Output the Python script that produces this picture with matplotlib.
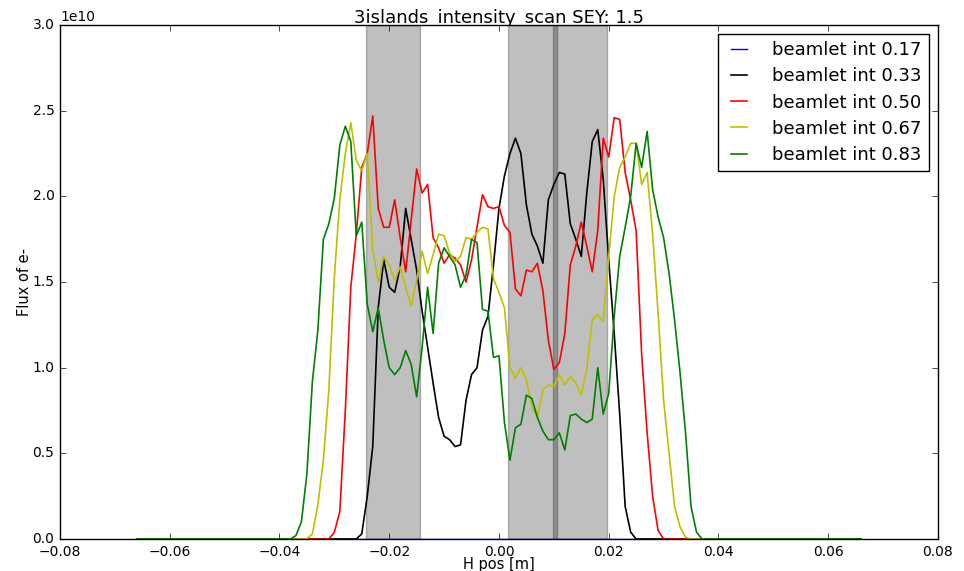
import numpy as np
import matplotlib
matplotlib.use("Agg")
import matplotlib.pyplot as plt

# beam positions: 1 mm grid from -66 mm to +66 mm
x_mm = np.arange(-66, 67)
# window where the curves are not zero: -38 mm .. +37 mm
win_start, win_stop = -38, 37

# flux values in units of 1e10, read in the window -38..37 mm
flux_033 = [0, 0, 0, 0, 0, 0, 0, 0, 0, 0, 0, 0, 0,
            0.03, 0.25, 0.54, 1.35, 1.63, 1.47, 1.44, 1.59, 1.93, 1.75,
            1.57, 1.33, 1.12, 0.91, 0.71, 0.60, 0.58, 0.54, 0.55, 0.81,
            0.96, 1.00, 1.22, 1.30, 1.60, 1.93, 2.12, 2.25, 2.34, 2.25,
            1.95, 1.78, 1.71, 1.61, 1.98, 2.07, 2.14, 2.13, 1.84, 1.75,
            1.65, 2.02, 2.32, 2.39, 2.10, 1.63, 1.20, 0.73, 0.19, 0.04,
            0, 0, 0, 0, 0, 0, 0, 0, 0, 0, 0, 0, 0]
flux_050 = [0, 0, 0, 0, 0, 0, 0, 0,
            0.04, 0.16, 0.75, 1.47, 1.78, 2.17, 2.25, 2.47, 1.93, 1.82,
            1.82, 1.98, 1.76, 1.56, 1.86, 2.16, 2.02, 2.07, 1.76, 1.70,
            1.61, 1.66, 1.64, 1.60, 1.50, 1.63, 1.82, 2.01, 1.94, 1.93,
            1.94, 1.83, 1.79, 1.46, 1.42, 1.57, 1.56, 1.61, 1.45, 1.16,
            0.99, 1.03, 1.20, 1.60, 1.71, 1.85, 1.71, 1.56, 1.80, 2.34,
            2.23, 2.46, 2.45, 2.14, 1.98, 1.80, 1.08, 0.62, 0.25, 0.05,
            0, 0, 0, 0, 0, 0, 0, 0]
flux_067 = [0, 0, 0, 0,
            0.03, 0.20, 0.46, 0.87, 1.53, 1.98, 2.25, 2.43, 2.21, 2.15,
            2.25, 1.69, 1.50, 1.65, 1.60, 1.51, 1.59, 1.47, 1.36, 1.51,
            1.68, 1.55, 1.66, 1.78, 1.77, 1.67, 1.62, 1.65, 1.76, 1.75,
            1.79, 1.82, 1.81, 1.52, 1.44, 1.35, 1.00, 0.94, 1.00, 0.93,
            0.77, 0.71, 0.87, 0.90, 0.89, 0.96, 0.90, 0.95, 0.91, 0.84,
            0.99, 1.28, 1.31, 1.27, 1.65, 2.00, 2.17, 2.23, 2.31, 2.31,
            2.07, 2.14, 1.78, 1.32, 0.81, 0.50, 0.19, 0.07, 0.01,
            0, 0, 0]
flux_083 = [0,
            0.02, 0.10, 0.38, 0.92, 1.22, 1.75, 1.84, 1.99, 2.30, 2.41,
            2.32, 1.77, 1.85, 1.37, 1.21, 1.35, 1.16, 1.00, 0.96, 1.00,
            1.10, 1.02, 0.83, 1.12, 1.47, 1.20, 1.61, 1.70, 1.65, 1.60,
            1.47, 1.54, 1.75, 1.73, 1.34, 1.33, 1.06, 1.07, 0.68, 0.46,
            0.65, 0.67, 0.84, 0.82, 0.71, 0.63, 0.58, 0.58, 0.62, 0.52,
            0.72, 0.73, 0.70, 0.68, 0.70, 1.00, 0.73, 0.85, 1.30, 1.65,
            1.82, 2.00, 2.31, 2.17, 2.38, 2.04, 1.88, 1.76, 1.55, 1.28,
            0.97, 0.62, 0.19, 0.04,
            0]

labels = ['beamlet int 0.17', 'beamlet int 0.33', 'beamlet int 0.50',
          'beamlet int 0.67', 'beamlet int 0.83']
colors = ['b', 'k', 'r', 'y', 'g']

# shaded regions [m]
spans = [(-0.0243, -0.0143), (0.0016, 0.0105), (0.0098, 0.0196)]


def full_series(window_vals):
    out = np.zeros(len(x_mm))
    i0 = win_start - x_mm[0]
    out[i0:i0 + len(window_vals)] = window_vals
    return out * 1e10


x = x_mm * 1e-3
series = [np.zeros(len(x_mm)),
          full_series(flux_033), full_series(flux_050),
          full_series(flux_067), full_series(flux_083)]

plt.style.use('classic')
plt.rcParams['font.family'] = 'DejaVu Sans'

fig = plt.figure(figsize=(9.64, 5.71), dpi=100, facecolor='white')
ax = fig.add_axes([0.0622, 0.056, 0.9108, 0.9])

for a, b in spans:
    ax.axvspan(a, b, color='k', alpha=0.25, lw=1)

for i, (y, c, lab) in enumerate(zip(series, colors, labels)):
    # the all-zero blue curve sits under the bottom spine
    ax.plot(x, y, color=c, lw=1.0 if i == 0 else 1.2, label=lab)

ax.set_xlim(-0.08, 0.08)
ax.set_ylim(0, 3e10)
ax.set_xticks(np.arange(-0.08, 0.081, 0.02))
ax.tick_params(labelsize=10)
ax.yaxis.get_offset_text().set_fontsize(10)
ax.set_xlabel('H pos [m]', fontsize=10.5, labelpad=-1)
ax.set_ylabel('Flux of e-', fontsize=10.5, labelpad=0)

leg = ax.legend(loc='upper right', fontsize=13, frameon=True,
                fancybox=False, borderaxespad=0.5, handlelength=1.5,
                handletextpad=1.1, labelspacing=0.45)
leg.get_frame().set_edgecolor('k')

# title sits behind the axes, so the top spine clips its lower part
fig.text(0.5175, 0.9602, '3islands_intensity_scan SEY: 1.5', ha='center',
         va='baseline', fontsize=13, zorder=-1)

fig.savefig('out.png', dpi=100, facecolor='white')
